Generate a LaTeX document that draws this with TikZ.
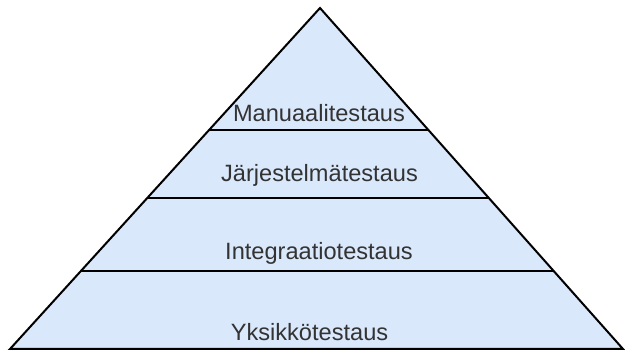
\documentclass[tikz,border=0pt]{standalone}
\usepackage{fontspec}
\setmainfont{Liberation Sans}
\usetikzlibrary{calc}
\definecolor{layerfill}{HTML}{DAE8FC}
\definecolor{labeltext}{HTML}{333333}
\tikzset{
  pyramidedge/.style={draw=black, line width=2pt, line join=miter},
  layerline/.style={draw=black, line width=2pt},
  layerlabel/.style={anchor=base, inner sep=0pt, text=labeltext,
    font=\fontsize{23.6}{28}\selectfont}
}
\begin{document}
\begin{tikzpicture}[x=1pt, y=-1pt]
  \useasboundingbox (0,0) rectangle (625,352);
  % outline of the pyramid
  \coordinate (apex) at (320,8);
  \coordinate (bl) at (10,349);
  \coordinate (br) at (623,349);
  \filldraw[pyramidedge, fill=layerfill] (apex) -- (br) -- (bl) -- cycle;
  % boundaries between the layers
  \foreach \t/\n in {0.3578/one, 0.5581/two, 0.7704/three} {
    \coordinate (l\n) at ($(apex)!\t!(bl)$);
    \coordinate (r\n) at ($(apex)!\t!(br)$);
    \draw[layerline] (l\n) -- (r\n);
  }
  % layer names
  \node[layerlabel] (manual) at (319,121.7) {Manuaalitestaus};
  \node[layerlabel] (system) at (319.5,181.7) {Järjestelmätestaus};
  \node[layerlabel] (integration) at (319,260) {Integraatiotestaus};
  \node[layerlabel] (unit) at (309.5,341) {Yksikkötestaus};
\end{tikzpicture}
\end{document}
